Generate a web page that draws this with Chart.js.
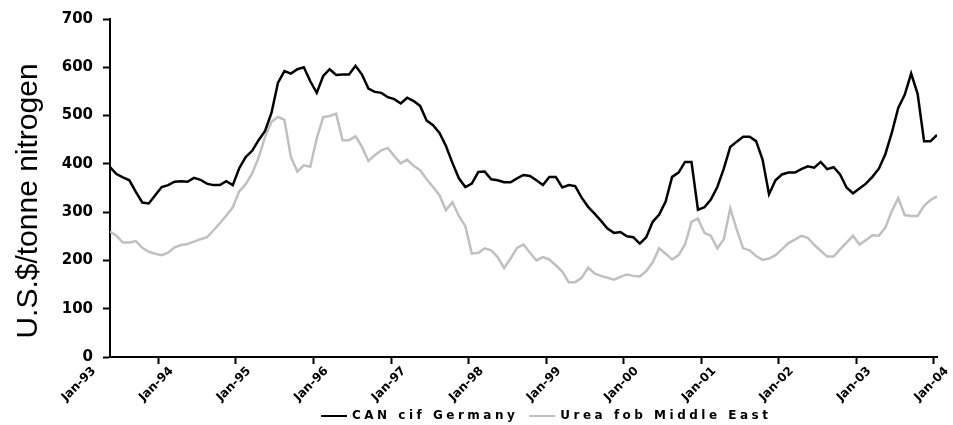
<!DOCTYPE html>
<html>
<head>
<meta charset="utf-8">
<script src="https://cdn.jsdelivr.net/npm/chart.js@4/dist/chart.umd.min.js"></script>
<style>
  html, body { margin: 0; padding: 0; background: #ffffff; }
  #wrap { width: 953px; height: 425px; position: relative; }
</style>
</head>
<body>
<div id="wrap"><canvas id="c" width="953" height="425"></canvas></div>
<script>
// ---- data (monthly observations, first one in mid-1993) ----
const seriesNames = ['CAN cif Germany', 'Urea fob Middle East'];
const yAxisTitle = 'U.S.$/tonne nitrogen';

const tickLabels = ['Jan-93', 'Jan-94', 'Jan-95', 'Jan-96', 'Jan-97', 'Jan-98',
                    'Jan-99', 'Jan-00', 'Jan-01', 'Jan-02', 'Jan-03', 'Jan-04'];
// position of each label, in months counted from the first observation
const tickMonths = [-4.5, 7.5, 19.5, 31.5, 43.5, 55.5, 67.5, 79.5, 91.5, 103.5, 115.5, 127.5];

const yTicks = [0, 100, 200, 300, 400, 500, 600, 700];

const canCifGermany = [
  393, 379, 372, 366, 342, 320, 318, 335, 352, 356,
  363, 364, 363, 371, 367, 359, 356, 356, 364, 356,
  391, 414, 427, 449, 468, 506, 568, 592, 587, 596,
  600, 571, 547, 582, 596, 584, 585, 585, 603, 585,
  556, 549, 547, 538, 534, 525, 537, 530, 520, 490,
  480, 464, 437, 402, 370, 352, 359, 383, 384, 368,
  366, 362, 362, 370, 377, 375, 366, 356, 373, 373,
  351, 356, 354, 330, 311, 297, 282, 266, 257, 259,
  250, 248, 235, 248, 280, 295, 322, 373, 382, 404,
  404, 305, 310, 326, 352, 390, 435, 446, 456, 456,
  447, 409, 337, 366, 378, 382, 382, 389, 395, 392,
  404, 389, 393, 378, 351, 339, 349, 359, 373, 390,
  420, 464, 516, 543, 587, 545, 447, 447, 460
];

const ureaFobMiddleEast = [
  260, 251, 237, 237, 240, 226, 218, 214, 211, 216,
  227, 232, 234, 239, 244, 248, 262, 277, 293, 310,
  343, 358, 380, 413, 456, 487, 497, 491, 414, 384,
  397, 394, 453, 497, 499, 504, 449, 449, 457, 435,
  406, 418, 428, 433, 416, 401, 409, 396, 387, 368,
  352, 335, 304, 321, 292, 271, 214, 216, 225, 221,
  207, 184, 204, 226, 233, 216, 200, 207, 202, 190,
  177, 155, 155, 164, 185, 173, 168, 164, 160, 166,
  171, 168, 167, 178, 196, 225, 214, 202, 211, 233,
  280, 287, 257, 251, 225, 244, 308, 264, 225, 221,
  209, 201, 204, 211, 223, 236, 243, 251, 247, 232,
  220, 208, 208, 223, 237, 251, 233, 242, 252, 251,
  268, 302, 329, 294, 292, 292, 313, 325, 333
];

// ---- chart ----
const toPoints = arr => arr.map((v, i) => ({ x: i, y: v }));

const extrasPlugin = {
  id: 'extras',
  afterDraw(chart) {
    const ctx = chart.ctx;
    // y-axis title
    ctx.save();
    ctx.fillStyle = '#000';
    ctx.font = '30px "Liberation Sans", Arial, sans-serif';
    ctx.textAlign = 'center';
    ctx.textBaseline = 'middle';
    ctx.translate(29, 201);
    ctx.rotate(-Math.PI / 2);
    ctx.fillText(yAxisTitle, 0, 0);
    ctx.restore();

    // legend
    ctx.save();
    ctx.font = 'bold 12px "DejaVu Sans", sans-serif';
    ctx.textBaseline = 'middle';
    ctx.textAlign = 'left';
    if ('letterSpacing' in ctx) ctx.letterSpacing = '3.5px';
    let x = 321;
    const y = 416;
    chart.data.datasets.forEach(ds => {
      ctx.strokeStyle = ds.borderColor;
      ctx.lineWidth = 2;
      ctx.beginPath();
      ctx.moveTo(x, y);
      ctx.lineTo(x + 26, y);
      ctx.stroke();
      ctx.fillStyle = '#000';
      ctx.fillText(ds.label, x + 31, y);
      x += 31 + ctx.measureText(ds.label).width + 11;
    });
    ctx.restore();
  }
};

new Chart(document.getElementById('c'), {
  type: 'line',
  data: {
    datasets: [
      {
        label: seriesNames[0],
        data: toPoints(canCifGermany),
        borderColor: '#000000',
        borderWidth: 2.5,
        pointRadius: 0,
        tension: 0,
        fill: false
      },
      {
        label: seriesNames[1],
        data: toPoints(ureaFobMiddleEast),
        borderColor: '#c0c0c0',
        borderWidth: 2.5,
        pointRadius: 0,
        tension: 0,
        fill: false
      }
    ]
  },
  options: {
    responsive: false,
    animation: false,
    devicePixelRatio: 1,
    layout: { padding: { left: 0, right: 16, top: 18, bottom: 0 } },
    plugins: {
      legend: { display: false },
      tooltip: { enabled: false },
      title: { display: false }
    },
    scales: {
      x: {
        type: 'linear',
        min: 0,
        max: canCifGermany.length - 1,
        bounds: 'data',
        border: { display: true, color: '#000', width: 2 },
        grid: {
          display: true,
          drawOnChartArea: false,
          drawTicks: true,
          tickLength: 7,
          tickWidth: 2,
          tickColor: c => (c.tick && c.tick.value < 0) ? 'rgba(0,0,0,0)' : '#000'
        },
        afterBuildTicks: s => { s.ticks = tickMonths.map(v => ({ value: v })); },
        afterFit: s => { s.height = 68; },
        ticks: {
          autoSkip: false,
          minRotation: 45,
          maxRotation: 45,
          padding: 0,
          labelOffset: 13,
          color: '#000',
          font: { family: '"DejaVu Sans", sans-serif', weight: 'bold', size: 12 },
          callback: (v, i) => tickLabels[i]
        }
      },
      y: {
        type: 'linear',
        min: 0,
        max: 700,
        border: { display: true, color: '#000', width: 2 },
        grid: {
          display: true,
          drawOnChartArea: false,
          drawTicks: true,
          tickLength: 7,
          tickWidth: 2,
          tickColor: '#000'
        },
        afterBuildTicks: s => { s.ticks = yTicks.map(v => ({ value: v })); },
        afterFit: s => { s.width = 110; },
        ticks: {
          padding: 10,
          color: '#000',
          font: { family: '"DejaVu Sans", sans-serif', weight: 'bold', size: 15 }
        }
      }
    }
  },
  plugins: [extrasPlugin]
});
</script>
</body>
</html>
